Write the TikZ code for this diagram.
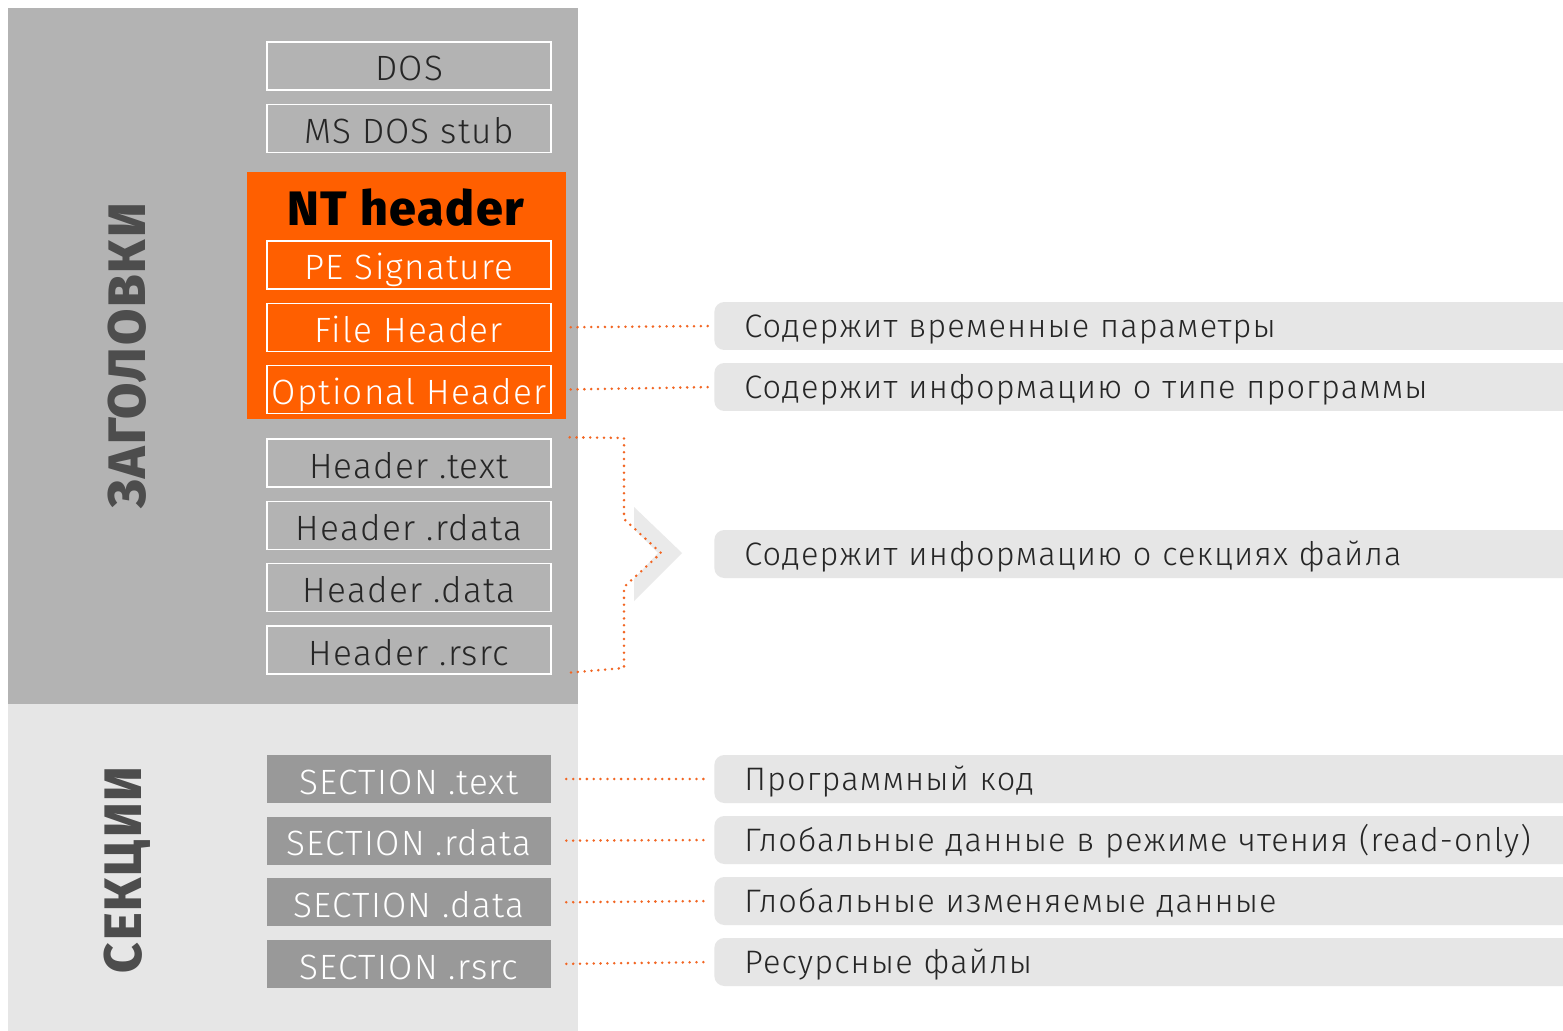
\documentclass[tikz,border=0pt]{standalone}
\usepackage{fontspec}
\setmainfont{Fira Sans}[UprightFont={* Light},BoldFont={* ExtraBold},LetterSpace=3.5]
\usepackage{xcolor}
\usetikzlibrary{positioning, calc}

\definecolor{panelDark}{HTML}{B3B3B3}
\definecolor{panelLight}{HTML}{E6E6E6}
\definecolor{ntOrange}{HTML}{FF5F00}
\definecolor{secGray}{HTML}{999999}
\definecolor{titleGray}{HTML}{4D4D4D}
\definecolor{dotOrange}{HTML}{F26522}

\begin{document}
\begin{tikzpicture}[
  x=0.02cm, y=-0.02cm,
  node distance=0.26cm,
  hdr/.style={draw=white, line width=0.8pt, minimum width=5.68cm, minimum height=0.96cm,
    inner sep=0pt, text height=0.6cm, text depth=0cm,
    font=\fontsize{20}{20}\selectfont, text=black!85},
  nt/.style={hdr, text=white},
  sec/.style={fill=secGray, minimum width=5.68cm, minimum height=0.96cm,
    inner sep=0pt, text height=0.6cm, text depth=0cm,
    font=\fontsize{20}{20}\selectfont, text=white},
  note/.style={fill=panelLight, rounded corners=0.2cm, anchor=west, minimum height=0.96cm,
    text width=16cm, align=left, inner xsep=0.6cm, inner ysep=0pt,
    text height=0.46cm, text depth=0cm,
    font=\fontsize{18.5}{18.5}\selectfont, text=black!85},
  grp/.style={rotate=90, font=\bfseries\fontsize{30}{30}\selectfont, text=titleGray},
  dotline/.style={dotOrange, line width=1.6pt, line cap=round, dash pattern=on 0pt off 3.9pt}
]
\clip (0,0) rectangle (1563,1031);
\fill[white] (0,0) rectangle (1563,1031);

% panels
\fill[panelDark] (8,8) rectangle (578,704);
\fill[panelLight] (8,704) rectangle (578,1031);
\node[grp] (gHead) at (127,356) {ЗАГОЛОВКИ};
\node[grp] (gSec) at (127,870) {СЕКЦИИ};

% header boxes
\node[hdr] (dos) at (409,66) {DOS};
\node[hdr, below=of dos] (stub) {MS DOS stub};

\fill[ntOrange] (247,172) rectangle (566,419);
\node[font=\bfseries\fontsize{27.5}{27.5}\selectfont, text=black] (ntTitle) at (406,208) {NT header};
\node[nt] (peSig) at (409,265) {PE Signature};
\node[nt, below=of peSig] (fileHdr) {File Header};
\node[nt, below=of fileHdr] (optHdr) {Optional Header};

\node[hdr] (hText) at (409,463) {Header .text};
\node[hdr, below=of hText] (hRdata) {Header .rdata};
\node[hdr, below=of hRdata] (hData) {Header .data};
\node[hdr, below=of hData] (hRsrc) {Header .rsrc};

% sections
\node[sec] (sText) at (409,779) {SECTION .text};
\node[sec, below=of sText] (sRdata) {SECTION .rdata};
\node[sec, below=of sRdata] (sData) {SECTION .data};
\node[sec, below=of sData] (sRsrc) {SECTION .rsrc};

% notes on the right
\node[note] (nFile) at (714,326) {Содержит временные параметры};
\node[note] (nOpt) at (714,387) {Содержит информацию о типе программы};
\node[note] (nHdrs) at (714,554) {Содержит информацию о секциях файла};
\node[note] (nText) at (714,779) {Программный код};
\node[note] (nRdata) at (714,840) {Глобальные данные в режиме чтения (read-only)};
\node[note] (nData) at (714,901) {Глобальные изменяемые данные};
\node[note] (nRsrc) at (714,962) {Ресурсные файлы};

% chevron behind the bracket
\fill[panelLight!85!white] (634,507) -- (682,553) -- (634,601) -- (634,579) -- (658,553) -- (634,529) -- cycle;

% dotted connectors
\draw[dotline, shorten <=0.38cm, shorten >=0.08cm] (fileHdr.east) -- (nFile.west);
\draw[dotline, shorten <=0.38cm, shorten >=0.08cm] (optHdr.east) -- (nOpt.west);
\foreach \a/\b in {sText/nText, sRdata/nRdata, sData/nData, sRsrc/nRsrc}
  \draw[dotline, shorten <=0.3cm, shorten >=0.08cm] (\a.east) -- (\b.west);

% bracket for the section headers
\coordinate (brTip) at (661,553);
\draw[dotline] ($(hText.north east)+(18,-1)$) -- (624,438) -- (624,519) -- (brTip)
  -- (624,587) -- (624,668) -- ($(hRsrc.south east)+(15,-2)$);
\end{tikzpicture}
\end{document}
